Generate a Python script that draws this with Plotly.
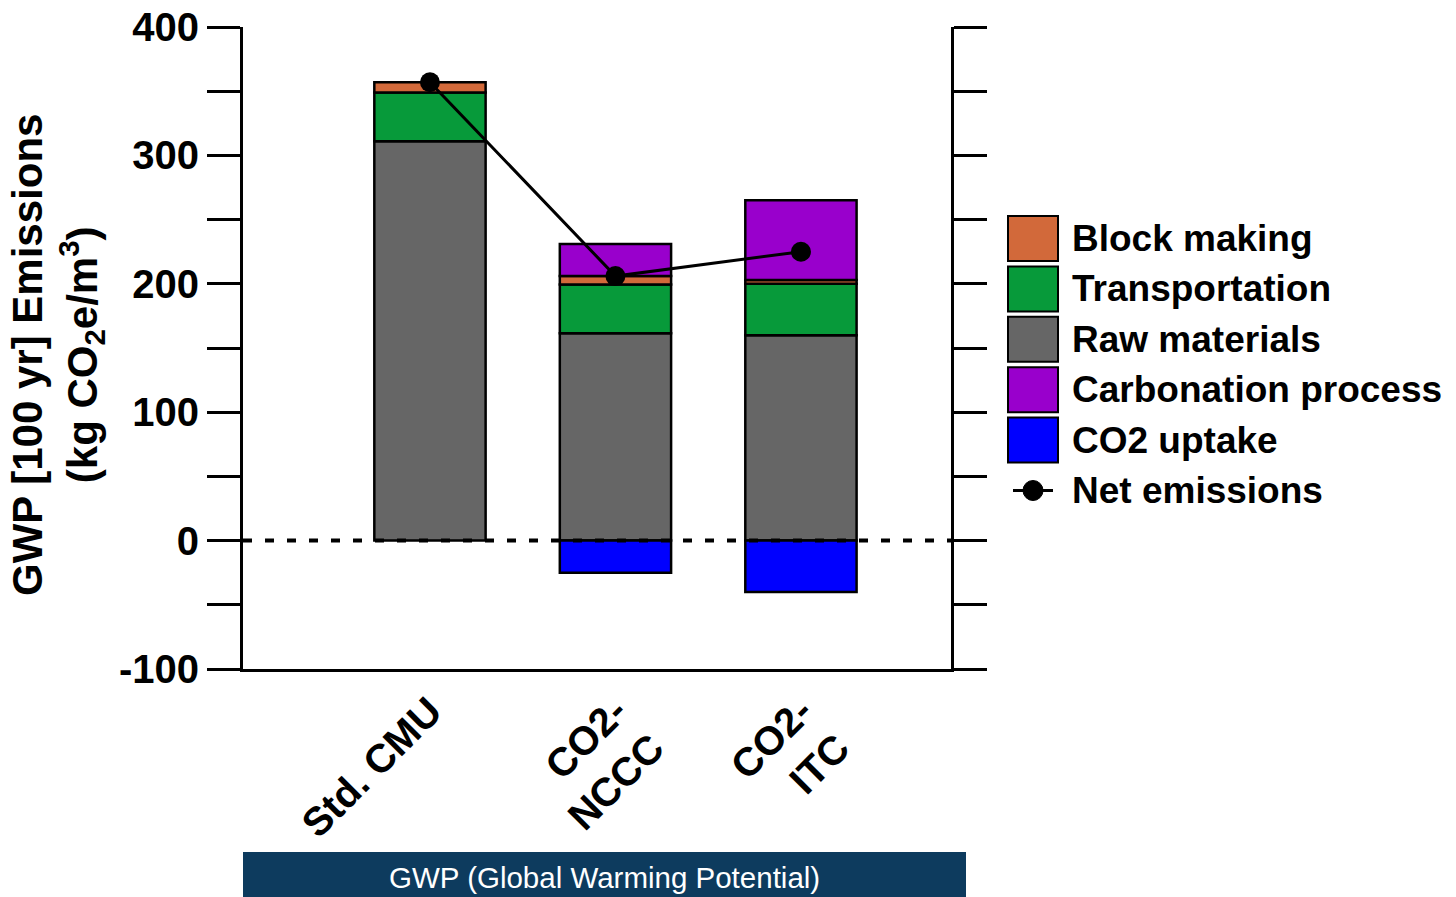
import plotly.graph_objects as go

# ---- data (kg CO2e per m3, GWP 100 yr) ----
categories = ["Std. CMU", "CO2-<br>NCCC", "CO2-<br>ITC"]
raw_materials = [311, 161.5, 160]
transportation = [38, 38, 40]
block_making = [8, 6.5, 3]
carbonation = [None, 25, 62]
co2_uptake = [None, -25, -40]

y_range = [-100, 400]
y_tick_vals = [-100, 0, 100, 200, 300, 400]
y_tick_text = ["-100", "0", "100", "200", "300", "400"]
y_minor_step = 50

series_names = ["Block making", "Transportation", "Raw materials",
                "Carbonation process", "CO2 uptake"]
series_colors = {
    "Block making": "#D2693A",
    "Transportation": "#079A3A",
    "Raw materials": "#666666",
    "Carbonation process": "#9900CC",
    "CO2 uptake": "#0000FF",
}

net_emissions = [
    sum(v for v in vals if v is not None)
    for vals in zip(raw_materials, transportation, block_making, carbonation, co2_uptake)
]

FONT = "Arial, Liberation Sans, sans-serif"
W, H = 1456, 897
ML, MR, MT, MB = 243, 505, 27, 228
PW, PH = W - ML - MR, H - MT - MB


def px_x(px):
    return (px - ML) / PW


def px_y(py):
    return (H - MB - py) / PH


x_pos = list(range(len(categories)))
fig = go.Figure()

stack = [
    ("Raw materials", raw_materials),
    ("Transportation", transportation),
    ("Block making", block_making),
    ("Carbonation process", carbonation),
    ("CO2 uptake", co2_uptake),
]
for name, vals in stack:
    fig.add_trace(go.Bar(
        x=x_pos, y=vals, name=name, width=0.6,
        marker=dict(color=series_colors[name], line=dict(color="black", width=2.5)),
        showlegend=False,
    ))

fig.add_trace(go.Scatter(
    x=x_pos, y=net_emissions, mode="lines+markers", name="Net emissions",
    line=dict(color="black", width=3),
    marker=dict(color="black", size=20),
    showlegend=False,
))

# dotted zero line across the plot
fig.add_shape(type="line", xref="paper", yref="y", x0=0, x1=1, y0=0, y1=0,
              line=dict(color="black", width=4, dash="9px,13px"))

# legend drawn with large swatches
row_top0, row_pitch, sw_h = 216, 50.4, 45
annotations = []
for i, name in enumerate(series_names):
    top = row_top0 + i * row_pitch
    fig.add_shape(type="rect", xref="paper", yref="paper",
                  x0=px_x(1008), x1=px_x(1058), y0=px_y(top), y1=px_y(top + sw_h),
                  fillcolor=series_colors[name], line=dict(color="black", width=2))
    annotations.append(dict(xref="paper", yref="paper", x=px_x(1070),
                            y=px_y(top + sw_h / 2), text=name, showarrow=False,
                            xanchor="left", yanchor="middle",
                            font=dict(family=FONT, size=37, color="black", weight="bold")))
net_y = row_top0 + len(series_names) * row_pitch + sw_h / 2
fig.add_shape(type="line", xref="paper", yref="paper",
              x0=px_x(1013), x1=px_x(1053), y0=px_y(net_y), y1=px_y(net_y),
              line=dict(color="black", width=3))
fig.add_shape(type="circle", xref="paper", yref="paper",
              x0=px_x(1023), x1=px_x(1043), y0=px_y(net_y - 10), y1=px_y(net_y + 10),
              fillcolor="black", line=dict(color="black", width=1))
annotations.append(dict(xref="paper", yref="paper", x=px_x(1070), y=px_y(net_y),
                        text="Net emissions", showarrow=False,
                        xanchor="left", yanchor="middle",
                        font=dict(family=FONT, size=37, color="black", weight="bold")))

# y-axis title
annotations.append(dict(xref="paper", yref="paper", x=px_x(57), y=px_y(355),
                        text="GWP [100 yr] Emissions<br>(kg CO<sub>2</sub>e/m<sup>3</sup>)",
                        textangle=-90, showarrow=False, xanchor="center", yanchor="middle",
                        font=dict(family=FONT, size=42, color="black", weight="bold")))

# bottom banner
fig.add_shape(type="rect", xref="paper", yref="paper",
              x0=px_x(243), x1=px_x(966), y0=px_y(852), y1=px_y(897),
              fillcolor="#0D3B5E", line=dict(width=0), layer="above")
annotations.append(dict(xref="paper", yref="paper", x=px_x(604.5), y=px_y(877),
                        text="GWP (Global Warming Potential)", showarrow=False,
                        xanchor="center", yanchor="middle",
                        font=dict(family=FONT, size=29.5, color="white")))

fig.update_layout(
    width=W, height=H,
    margin=dict(l=ML, r=MR, t=MT, b=MB, pad=0),
    barmode="relative",
    plot_bgcolor="white", paper_bgcolor="white",
    annotations=annotations,
    font=dict(family=FONT, color="black"),
)
fig.update_xaxes(
    range=[-1.008, 2.809], tickvals=x_pos, ticktext=categories, tickangle=-45,
    showline=True, linecolor="black", linewidth=3, mirror=False,
    ticks="", showgrid=False, zeroline=False, automargin=False,
    tickfont=dict(family=FONT, size=40, color="black", weight="bold"),
)
fig.update_yaxes(
    range=y_range, tickvals=y_tick_vals, ticktext=y_tick_text,
    showline=True, linecolor="black", linewidth=3, mirror="ticks",
    ticks="outside", ticklen=33, tickwidth=3, tickcolor="black",
    minor=dict(tick0=0, dtick=y_minor_step, ticks="outside", ticklen=33,
               tickwidth=3, tickcolor="black", showgrid=False),
    showgrid=False, zeroline=False, automargin=False,
    tickfont=dict(family=FONT, size=40, color="black", weight="bold"),
)

fig.write_html("out.html", config={"displayModeBar": False})
